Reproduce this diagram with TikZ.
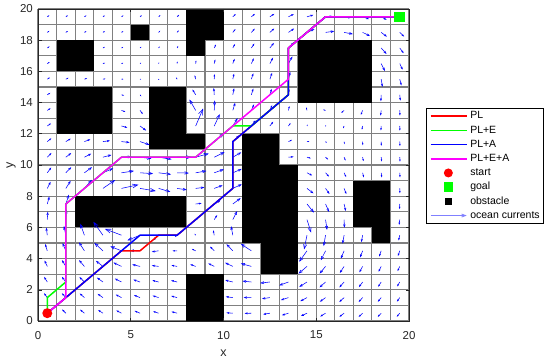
\documentclass[tikz,border=0pt]{standalone}
\usepackage{fontspec}
\setmainfont{Liberation Sans}
\usetikzlibrary{arrows.meta}
\definecolor{PLRed}{RGB}{255,0,0}
\definecolor{PLEGreen}{RGB}{0,255,0}
\definecolor{PLABlue}{RGB}{0,0,255}
\definecolor{PLEAMagenta}{RGB}{255,0,255}
\definecolor{CurrentBlue}{RGB}{0,0,255}
\definecolor{LegendCurrent}{RGB}{128,128,255}
\definecolor{GridGray}{RGB}{128,128,128}
\definecolor{AxisGray}{RGB}{38,38,38}
\tikzset{
  gridline/.style={draw=GridGray,line width=1.1pt},
  obstacle/.style={fill=black},
  current/.style={draw=CurrentBlue,line width=.55pt},
  route/.style={line width=1.5pt,line join=round},
  axisbox/.style={draw=AxisGray,line width=.6pt},
  ticklabel/.style={font=\fontsize{11.5}{13}\selectfont,text=AxisGray,inner sep=0pt},
  axislabel/.style={font=\fontsize{12.5}{14}\selectfont,text=AxisGray,inner sep=0pt},
  legendtext/.style={font=\fontsize{10.5}{12}\selectfont,anchor=west,inner sep=0pt,text height=7.5pt,text depth=2pt},
  startmark/.style={circle,fill=PLRed,inner sep=0pt,minimum size=10pt},
  goalmark/.style={rectangle,fill=PLEGreen,inner sep=0pt,minimum size=10.5pt}
}
% obstacle cells: x1/y1/x2/y2
\def\obstaclelist{8/17/9/20, 9/18/10/20, 5/18/6/19, 1/16/3/18, 1/12/4/15, 6/11/8/15, 8/11/9/12, 14/14/18/18, 11/5/12/12, 12/3/13/12, 13/3/14/10, 2/6/8/8, 17/6/19/9, 18/5/19/6, 8/0/10/3}
% current vortices: cx/cy/strength/core
\def\vortexlist{4.7/6.7/26/0.9, 12.7/5.8/28/1.3, 16/16/18/1.5, 7.8/12.6/-17.5/0.7}
\begin{document}
\begin{tikzpicture}[x=18.55pt,y=15.6pt]
  \useasboundingbox (-2.049,-2.756) rectangle (27.60,20.577);
  % grid
  \foreach \k in {0,...,20}{
    \draw[gridline] (\k,0) -- (\k,20);
    \draw[gridline] (0,\k) -- (20,\k);
  }
  % obstacles
  \foreach \xa/\ya/\xb/\yb in \obstaclelist{\fill[obstacle] (\xa,\ya) rectangle (\xb,\yb);}
  % ocean currents
  \foreach \i in {0,...,19}{
    \foreach \j in {0,...,19}{
      \gdef\cellfree{1}
      \foreach \xa/\ya/\xb/\yb in \obstaclelist{
        \pgfmathtruncatemacro{\hit}{(\i>=\xa)&&(\i<\xb)&&(\j>=\ya)&&(\j<\yb)}
        \ifnum\hit=1 \gdef\cellfree{0}\fi
      }
      \ifnum\cellfree=1
        \gdef\cu{0}\gdef\cv{0}
        \foreach \cx/\cy/\ca/\cd in \vortexlist{
          \pgfmathsetmacro{\vdx}{\i+0.5-\cx}
          \pgfmathsetmacro{\vdy}{\j+0.5-\cy}
          \pgfmathsetmacro{\rr}{\vdx*\vdx+\vdy*\vdy}
          \pgfmathsetmacro{\fac}{\ca*(1-exp(-min(\rr/(\cd*\cd),20)))/\rr}
          \pgfmathsetmacro{\newu}{\cu+\fac*\vdy}
          \pgfmathsetmacro{\newv}{\cv-\fac*\vdx}
          \xdef\cu{\newu}\xdef\cv{\newv}
        }
        \pgfmathsetmacro{\alen}{veclen(\cu,\cv)}
        \pgfmathsetmacro{\hl}{max(0.3*\alen,0.4)}
        \pgfmathsetmacro{\hw}{max(0.22*\alen,0.4)}
        \draw[current,-{Straight Barb[length=\hl pt,width=\hw pt]}] (\i+0.5,\j+0.5) -- ++(\cu pt,\cv pt);
      \fi
    }
  }
  % planned routes
  \coordinate (start) at (0.5,0.5);
  \coordinate (goal) at (19.5,19.5);
  \draw[route,PLRed] (start) -- (4.5,4.5) -- (5.5,4.5) -- (6.5,5.5) -- (7.5,5.5) -- (10.5,8.5) -- (10.5,11.5) -- (13.5,14.5) -- (13.5,17.5) -- (15.5,19.5) -- (goal);
  \draw[route,PLEGreen] (start) -- (0.5,1.5) -- (1.5,2.5) -- (1.5,7.5) -- (4.5,10.5) -- (8.5,10.5) -- (10.5,12.5) -- (11.5,12.5) -- (13.5,14.5) -- (13.5,17.5) -- (15.5,19.5) -- (goal);
  \draw[route,PLABlue] (start) -- (5.5,5.5) -- (7.5,5.5) -- (10.5,8.5) -- (10.5,11.5) -- (13.5,14.5) -- (13.5,17.5) -- (15.5,19.5) -- (goal);
  \draw[route,PLEAMagenta] (start) -- (1.5,1.5) -- (1.5,7.5) -- (4.5,10.5) -- (8.5,10.5) -- (13.5,15.5) -- (13.5,17.5) -- (15.5,19.5) -- (goal);
  \node[startmark] (startdot) at (start) {};
  \node[goalmark] (goalbox) at (goal) {};
  % axes
  \draw[axisbox] (0,0) rectangle (20,20);
  \foreach \t in {0,5,...,20}{
    \draw[axisbox] (\t,0) -- ++(0,3.5pt);
    \draw[axisbox] (\t,20) -- ++(0,-3.5pt);
    \node[ticklabel] (xt\t) at (\t,-0.9) {\t};
  }
  \foreach \t in {0,2,...,20}{
    \draw[axisbox] (0,\t) -- ++(3.5pt,0);
    \draw[axisbox] (20,\t) -- ++(-3.5pt,0);
    \node[ticklabel,anchor=east] (yt\t) at (-0.27,\t) {\t};
  }
  \node[axislabel] (xlabel) at (10,-2.05) {x};
  \node[axislabel,rotate=90] (ylabel) at (-1.45,10) {y};
  % legend
  \draw[fill=white,draw=black,line width=.5pt] (20.95,6.27) rectangle (27.21,13.62);
  \foreach \k/\col/\txt in {1/PLRed/PL,2/PLEGreen/PL+E,3/PLABlue/PL+A,4/PLEAMagenta/PL+E+A}{
    \pgfmathsetmacro{\ly}{13.13-0.91*(\k-1)}
    \draw[route,\col] (21.17,\ly) -- (23.11,\ly);
    \node[legendtext] (leg\k) at (23.29,\ly) {\txt};
  }
  \node[startmark,minimum size=9pt] (legstart) at (22.12,9.49) {};
  \node[legendtext] (leg5) at (23.29,9.49) {start};
  \node[goalmark,minimum size=9.5pt] (leggoal) at (22.12,8.58) {};
  \node[legendtext] (leg6) at (23.29,8.58) {goal};
  \node[obstacle,minimum size=6.5pt,inner sep=0pt] (legobstacle) at (22.12,7.67) {};
  \node[legendtext] (leg7) at (23.29,7.67) {obstacle};
  \draw[LegendCurrent,line width=.8pt,-{Straight Barb[length=4pt,width=3pt]}] (21.17,6.76) -- (23.11,6.76);
  \node[legendtext] (leg8) at (23.29,6.76) {ocean currents};
\end{tikzpicture}
\end{document}
